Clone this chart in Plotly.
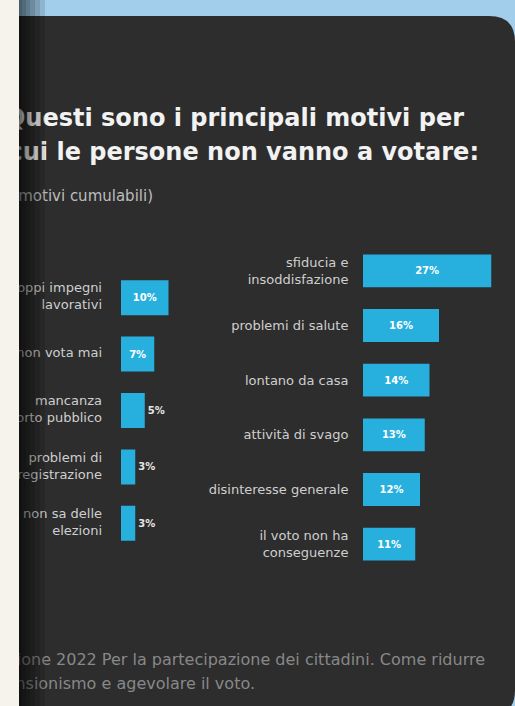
import plotly.graph_objects as go

# ---------------- data ----------------
left_labels = ["troppi impegni<br>lavorativi", "non vota mai", "mancanza<br>trasporto pubblico",
               "problemi di<br>registrazione", "non sa delle<br>elezioni"]
left_values = [10, 7, 5, 3, 3]
right_labels = ["sfiducia e<br>insoddisfazione", "problemi di salute", "lontano da casa",
                "attività di svago", "disinteresse generale", "il voto non ha<br>conseguenze"]
right_values = [27, 16, 14, 13, 12, 11]
title_lines = ["Questi sono i principali motivi per", "cui le persone non vanno a votare:"]
subtitle = "(motivi cumulabili)"
source_lines = ["Fonte: Relazione 2022 Per la partecipazione dei cittadini. Come ridurre",
                "l'astensionismo e agevolare il voto."]

# ---------------- style ----------------
W, H = 515, 706
BEIGE = "#f6f3ec"
BLUE = "#a2ceec"
PANEL = "#2d2d2d"
BAR = "#27b0de"
LABEL = "#cfcfcf"
FONT = "DejaVu Sans"
PXU = 4.75          # pixels per percentage point
PANEL_X0 = 19


def px(x):
    return x / W


def py(y):
    return 1 - y / H


fig = go.Figure()

# left bars
left_pos = ["inside" if v >= 7 else "outside" for v in left_values]
fig.add_trace(go.Bar(
    x=left_values, y=left_labels, orientation="h", marker=dict(color=BAR, line=dict(width=0)),
    width=0.62, text=[f"{v}%" for v in left_values], textposition=left_pos,
    insidetextanchor="middle", constraintext="none",
    insidetextfont=dict(family=FONT, size=10, color="white", weight=700),
    outsidetextfont=dict(family=FONT, size=10, color="#e6e6e6", weight=700),
    xaxis="x", yaxis="y", cliponaxis=False, hoverinfo="skip"))
# left labels (clipped at panel edge, as in the photo)
fig.add_trace(go.Scatter(
    x=[-19 / PXU] * len(left_labels), y=left_labels, mode="text", text=left_labels,
    textposition="middle left", textfont=dict(family=FONT, size=13, color=LABEL),
    xaxis="x", yaxis="y", cliponaxis=True, hoverinfo="skip"))

# right bars
fig.add_trace(go.Bar(
    x=right_values, y=right_labels, orientation="h", marker=dict(color=BAR, line=dict(width=0)),
    width=0.6, text=[f"{v}%" for v in right_values], textposition="inside",
    insidetextanchor="middle", constraintext="none",
    insidetextfont=dict(family=FONT, size=10, color="white", weight=700),
    xaxis="x2", yaxis="y2", hoverinfo="skip"))

# title / subtitle / source as clipped text on an overlay pixel axis
txt_x = [464, 479, 153, 485, 255]
txt_y = [120, 154, 197, 661, 685]
txt = title_lines + [subtitle] + source_lines
sizes = [24, 24, 15, 16, 16]
colors = ["#f2f2f2", "#f2f2f2", "#bdbdbd", "#888888", "#888888"]
weights = [700, 700, 400, 400, 400]
for i in range(len(txt)):
    fig.add_trace(go.Scatter(
        x=[txt_x[i]], y=[txt_y[i]], mode="text", text=[txt[i]], textposition="middle left",
        textfont=dict(family=FONT, size=sizes[i], color=colors[i], weight=weights[i]),
        xaxis="x3", yaxis="y3", cliponaxis=True, hoverinfo="skip"))

# ---------------- background shapes ----------------
shapes = [
    dict(type="rect", xref="paper", yref="paper", x0=px(PANEL_X0), x1=1, y0=0, y1=1,
         fillcolor=BLUE, line=dict(width=0), layer="below"),
    dict(type="path", xref="paper", yref="paper", layer="below", fillcolor=PANEL, line=dict(width=0),
         path=(f"M {px(19)} {py(16)} L {px(489)} {py(16)} Q {px(515)} {py(16)} {px(515)} {py(42)} "
               f"L {px(515)} {py(690)} Q {px(515)} {py(716)} {px(489)} {py(716)} L {px(19)} {py(716)} Z")),
]
for w in [26, 21, 16, 11, 7, 3]:
    shapes.append(dict(type="rect", xref="paper", yref="paper", x0=px(PANEL_X0), x1=px(PANEL_X0 + w),
                       y0=0, y1=1, fillcolor="black", opacity=0.12, line=dict(width=0), layer="above"))

fig.update_layout(
    width=W, height=H, margin=dict(l=0, r=0, t=0, b=0),
    paper_bgcolor=BEIGE, plot_bgcolor="rgba(0,0,0,0)", showlegend=False,
    bargap=0.4, shapes=shapes,
    xaxis=dict(domain=[px(PANEL_X0), px(200)], range=[-(121 - PANEL_X0) / PXU, (200 - 121) / PXU],
               visible=False, fixedrange=True, anchor="y"),
    yaxis=dict(domain=[py(551.5), py(269.5)], autorange="reversed", type="category",
               visible=False, fixedrange=True, anchor="x"),
    xaxis2=dict(domain=[px(363), px(505)], range=[0, 142 / PXU], visible=False, fixedrange=True,
                anchor="y2"),
    yaxis2=dict(domain=[py(571.5), py(243.5)], autorange="reversed", type="category",
                showgrid=False, zeroline=False, showline=False, ticks="outside", ticklen=11,
                tickcolor="rgba(0,0,0,0)", tickfont=dict(family=FONT, size=13, color=LABEL),
                anchor="x2", fixedrange=True),
    xaxis3=dict(domain=[px(PANEL_X0), 1], range=[PANEL_X0, W], visible=False, fixedrange=True,
                anchor="y3"),
    yaxis3=dict(domain=[0, 1], range=[H, 0], visible=False, fixedrange=True, anchor="x3"),
)

fig.write_html("out.html")
